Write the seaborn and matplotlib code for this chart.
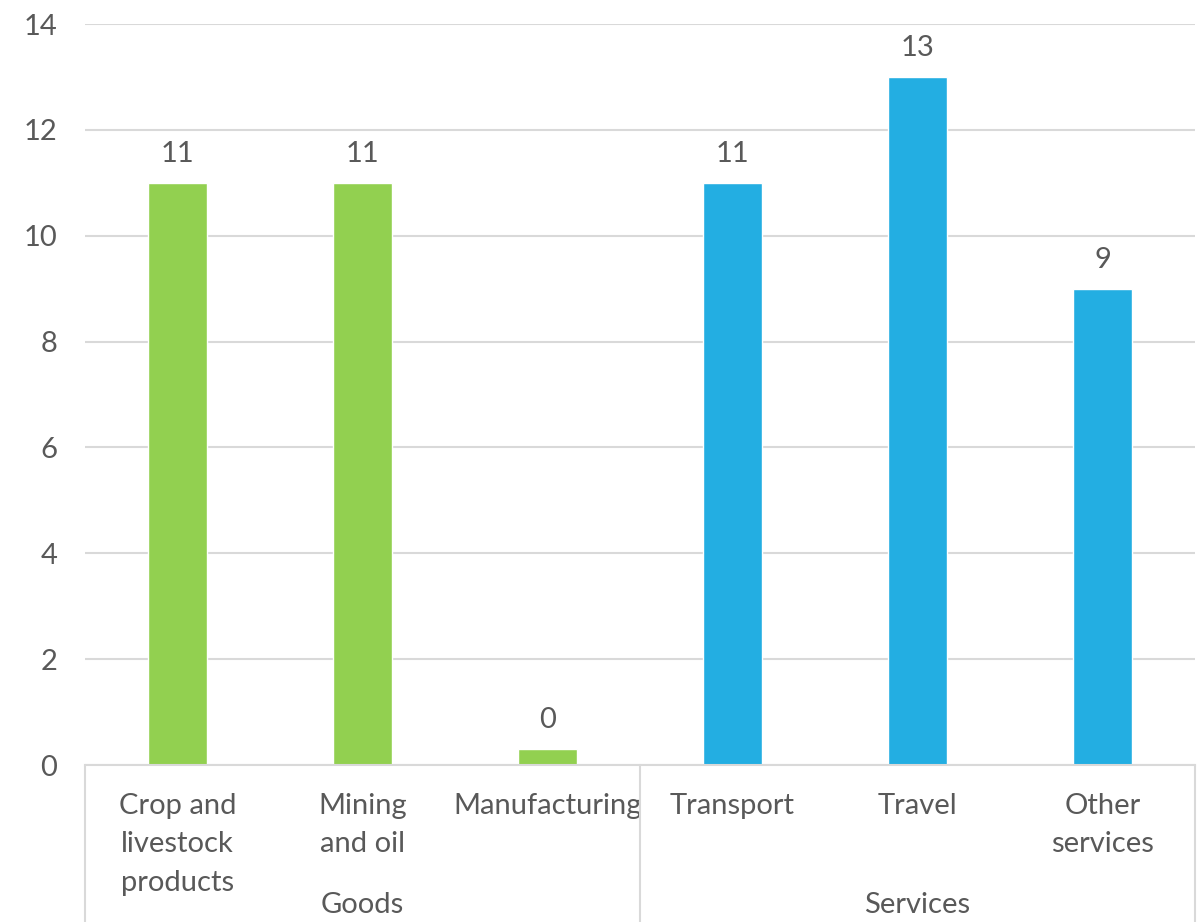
import numpy as np
import pandas as pd
import matplotlib
matplotlib.use("Agg")
import matplotlib.pyplot as plt
import seaborn as sns

# chart values
categories = ["Crop and\nlivestock\nproducts", "Mining\nand oil", "Manufacturing",
              "Transport", "Travel", "Other\nservices"]
values = [11, 11, 0.3, 11, 13, 9]
groups = ["Goods", "Goods", "Goods", "Services", "Services", "Services"]
group_names = ["Goods", "Services"]
yticks = [0, 2, 4, 6, 8, 10, 12, 14]

df = pd.DataFrame({"category": categories, "value": values, "group": groups})

sns.set_theme(style="white")
plt.rcParams["font.family"] = ["Lato", "DejaVu Sans"]

text_col = "#595959"
grid_col = "#D9D9D9"
palette = {"Goods": "#92D050", "Services": "#23AEE2"}
fs = 21

fig = plt.figure(figsize=(12.03, 9.22), dpi=100)
ax = fig.add_axes([85 / 1203, 157 / 922, 1110 / 1203, 741 / 922])

sns.barplot(data=df, x="category", y="value", hue="group", palette=palette,
            dodge=False, width=0.32, legend=False, ax=ax, saturation=1)

ax.set_ylim(0, 14)
ax.set_xlim(-0.5, 5.5)
ax.set_yticks(yticks)
ax.set_yticklabels([str(t) for t in yticks], fontsize=fs, color=text_col)
ax.yaxis.grid(True, color=grid_col, linewidth=1.5)
ax.set_axisbelow(True)
ax.tick_params(axis="y", length=0, pad=20)
ax.tick_params(axis="x", length=0, pad=20)
ax.set_xticks(range(len(categories)))
ax.set_xticklabels(categories, fontsize=fs, color=text_col, linespacing=1.6)
ax.set_xlabel("")
ax.set_ylabel("")
for s in ["top", "right", "left"]:
    ax.spines[s].set_visible(False)
ax.spines["bottom"].set_color(grid_col)
ax.spines["bottom"].set_linewidth(1.5)

# value labels
for i, v in enumerate(values):
    ax.text(i, v + 0.3, f"{v:.0f}", ha="center", va="bottom", fontsize=fs, color=text_col)

# group separators and group labels
trans = ax.get_xaxis_transform()
for xsep in [-0.5, 2.5, 5.5]:
    ax.plot([xsep, xsep], [0, -0.25], transform=trans, color=grid_col,
            linewidth=1.5, clip_on=False)
for gi, g in enumerate(group_names):
    idx = [i for i, gg in enumerate(groups) if gg == g]
    ax.text(np.mean(idx), -0.189, g, transform=trans, ha="center", va="center",
            fontsize=fs, color=text_col)

fig.savefig("out.png", dpi=100, facecolor="white")
